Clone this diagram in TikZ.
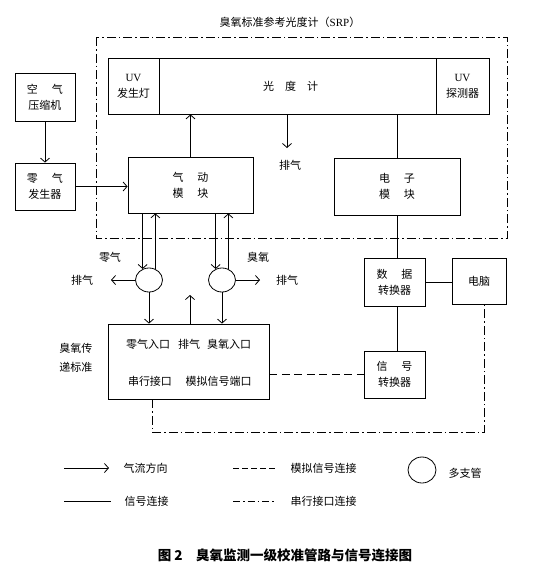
\documentclass[tikz,border=0pt]{standalone}
\usepackage{fontspec}
\setmainfont{Noto Sans CJK SC}
\newfontfamily\lat{Liberation Serif}
\usetikzlibrary{shapes.geometric,arrows.meta}

\begin{document}
\begin{tikzpicture}[x=1pt,y=-1pt,line width=0.8pt,
  font=\fontsize{11}{16}\selectfont,
  box/.style={draw,inner sep=0pt,align=center},
  flow/.style={-{Straight Barb[length=4pt,width=9pt]}},
  analog/.style={dash pattern=on 8pt off 4.5pt},
  serial/.style={dash pattern=on 9pt off 3pt on 1.5pt off 3pt},
  manifold/.style={draw,ellipse,minimum width=27pt,minimum height=24pt,inner sep=0pt}]
\useasboundingbox (0,0) rectangle (546,566);

\node (srp) at (290,22) {臭氧标准参考光度计（{\lat SRP}）};
\draw[serial] (96,37) rectangle (507,238);

\node[box,minimum width=51pt,minimum height=56pt] (uvlamp) at (133.5,86) {{\lat UV}\\发生灯};
\node[box,minimum width=277pt,minimum height=56pt] (meter) at (297.5,86) {光\quad 度\quad 计\hspace{14pt}};
\node[box,minimum width=53pt,minimum height=56pt] (uvdet) at (462.5,86) {{\lat UV}\\探测器};

\node[box,minimum width=60pt,minimum height=48pt] (comp) at (45,97) {空\hspace{14pt}气\\压缩机};
\node[box,minimum width=60pt,minimum height=47pt] (zerogen) at (45,186.5) {零\hspace{14pt}气\\发生器};
\node[box,minimum width=125pt,minimum height=56pt] (pneu) at (190.5,185) {气\hspace{14pt}动\\模\hspace{14pt}块};
\node[box,minimum width=126pt,minimum height=57pt] (elec) at (397,186.5) {电\hspace{14pt}子\\模\hspace{14pt}块};
\node[box,minimum width=61pt,minimum height=48pt] (datac) at (394.5,282) {数\hspace{14pt}据\\转换器};
\node[box,minimum width=54pt,minimum height=46pt] (pc) at (479,281) {电脑};
\node[box,minimum width=61pt,minimum height=47pt] (sigc) at (394.5,374.5) {信\hspace{14pt}号\\转换器};

\node[box,minimum width=161pt,minimum height=75pt] (xfer) at (188.5,361.5) {};
\node (inz) at (148,344) {零气入口};
\node (inx) at (189,344) {排气};
\node (ino) at (229,344) {臭氧入口};
\node (ser) at (150,381) {串行接口};
\node (ana) at (218.5,381) {模拟信号端口};
\node[align=center,font=\fontsize{11}{19}\selectfont] (xferlbl) at (76,358) {臭氧传\\递标准};

\node[manifold] (ml) at (149,280) {};
\node[manifold] (mr) at (222,280) {};
\node (zlbl) at (110,257) {零气};
\node (olbl) at (258,257) {臭氧};
\node (exl) at (82,280) {排气};
\node (exr) at (287,280) {排气};
\node (exm) at (290,165) {排气};
\coordinate (exlend) at (111,280);
\coordinate (exrend) at (260,280);
\coordinate (exmend) at (287,148);
\coordinate (exbend) at (190,295);
\coordinate (scorner) at (152,432);

\draw[flow] (comp) -- (zerogen);
\draw[flow] (zerogen.east) -- (zerogen.east -| pneu.west);
\draw[flow] (pneu.north) -- (pneu.north |- meter.south);
\draw[flow] (exmend |- meter.south) -- (exmend);
\draw (elec.north |- meter.south) -- (elec.north);
\draw (elec.south) -- (elec.south |- datac.north);
\draw (datac.east) -- (datac.east -| pc.west);
\draw (datac.south -| elec.south) -- (sigc.north -| elec.south);

\draw[flow] (ml.120 |- pneu.south) -- (ml.120);
\draw[flow] (ml.60) -- (ml.60 |- pneu.south);
\draw[flow] (mr.120 |- pneu.south) -- (mr.120);
\draw[flow] (mr.60) -- (mr.60 |- pneu.south);
\draw[flow] (ml.west) -- (exlend);
\draw[flow] (mr.east) -- (exrend);
\draw[flow] (ml.south) -- (ml.south |- xfer.north);
\draw[flow] (mr.south) -- (mr.south |- xfer.north);
\draw[flow] (exbend |- xfer.north) -- (exbend);

\draw[analog] (sigc.west -| xfer.east) -- (sigc.west);
\draw[serial] (scorner |- xfer.south) -- (scorner) -| ([xshift=5pt]pc.south);

% legend
\coordinate (lg1a) at (64,468);
\coordinate (lg1b) at (109,468);
\coordinate (lg2a) at (64,501);
\coordinate (lg2b) at (111,501);
\coordinate (lg3a) at (233,468);
\coordinate (lg3b) at (275,468);
\coordinate (lg4a) at (233,501);
\coordinate (lg4b) at (275,501);
\draw[flow] (lg1a) -- (lg1b);
\draw (lg2a) -- (lg2b);
\draw[dash pattern=on 6pt off 3pt] (lg3a) -- (lg3b);
\draw[dash pattern=on 7pt off 3pt on 1.5pt off 3pt] (lg4a) -- (lg4b);
\node[anchor=west] (lgflow) at (120,468) {气流方向};
\node[anchor=west] (lgsig) at (121,501) {信号连接};
\node[anchor=west] (lgana) at (287,468) {模拟信号连接};
\node[anchor=west] (lgser) at (287,501) {串行接口连接};
\node[manifold,minimum width=28pt,minimum height=26pt] (lgman) at (422,470) {};
\node[anchor=west] (lgmanl) at (445,473) {多支管};

\node[font=\fontsize{13.5}{16}\selectfont\bfseries] (cap) at (285,555) {图 2\hspace{1em}臭氧监测一级校准管路与信号连接图};
\end{tikzpicture}
\end{document}
